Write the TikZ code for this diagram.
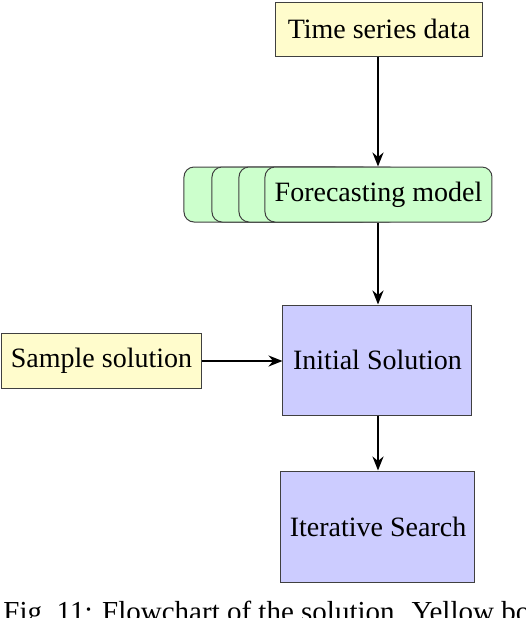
\documentclass[tikz,border=0pt]{standalone}
\usepackage{fontspec}
\setmainfont{Liberation Serif}
\usetikzlibrary{arrows.meta}
\begin{document}
\begin{tikzpicture}[x=1pt,y=1pt,
  box/.style={draw=black!75, line width=0.5pt, inner sep=0pt, font=\fontsize{14}{16}\selectfont},
  ybox/.style={box, fill=yellow!20},
  gbox/.style={box, fill=green!20, rounded corners=5pt},
  bbox/.style={box, fill=blue!20},
  arr/.style={-{Stealth[length=7pt,width=5.5pt]}, line width=1pt}]
\useasboundingbox (0,0) rectangle (263,-309);
\node[ybox, minimum width=103.5pt, minimum height=27pt] (ts) at (189.5,-14.5) {Time series data};
\node[gbox, minimum width=80pt, minimum height=27.5pt] (f1) at (132,-97.25) {};
\node[gbox, minimum width=80pt, minimum height=27.5pt] (f2) at (146,-97.25) {};
\node[gbox, minimum width=80pt, minimum height=27.5pt] (f3) at (159.5,-97.25) {};
\node[gbox, minimum width=113.5pt, minimum height=27.5pt] (fm) at (189.25,-97.25) {Forecasting model};
\node[bbox, minimum width=94.5pt, minimum height=55pt] (is) at (188.75,-180) {Initial Solution};
\node[ybox, minimum width=100.5pt, minimum height=27.5pt] (ss) at (50.75,-180.5) {Sample solution};
\node[bbox, minimum width=97pt, minimum height=55.5pt] (it) at (189,-263.25) {Iterative Search};
\coordinate (ax) at (189,0);
\draw[arr] (ax |- ts.south) -- (ax |- fm.north);
\draw[arr] (ax |- fm.south) -- (ax |- is.north);
\draw[arr] (ss.east) -- (ss.east -| is.west);
\draw[arr] (ax |- is.south) -- (ax |- it.north);
\node[anchor=base west, inner sep=0pt, font=\fontsize{14.5}{16}\selectfont] (cap) at (1.5,-310.5) {Fig.~11: Flowchart of the solution. Yellow box};
\end{tikzpicture}
\end{document}
